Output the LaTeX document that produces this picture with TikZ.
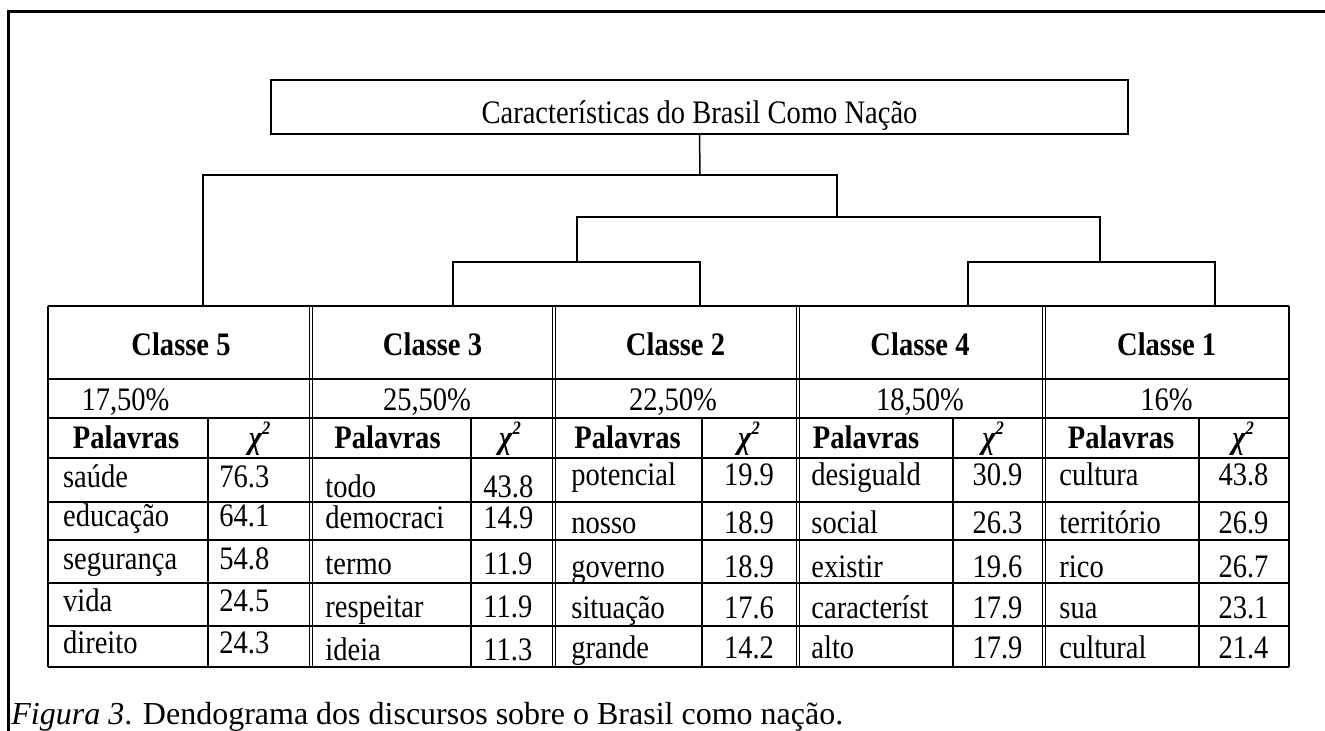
\documentclass[tikz,border=0pt]{standalone}
\usepackage{fontspec}
\setmainfont{Liberation Serif}[FakeStretch=0.87]
\newfontfamily\capfont{Liberation Serif}
\newcommand\tabfont{\fontsize{16.4}{19}\selectfont}
\newcommand\chisq{\itshape χ\raisebox{0.42em}{\fontsize{9.5}{10}\selectfont 2}}
\begin{document}
\begin{tikzpicture}[x=0.5pt,y=-0.5pt,
  every node/.style={inner sep=0pt, font=\tabfont},
  tline/.style={line width=0.9pt},
  dline/.style={line width=0.5pt},
  dendro/.style={line width=0.75pt},
  hd/.style={anchor=base, font=\tabfont\bfseries},
  wd/.style={anchor=base west},
  nm/.style={anchor=base}]
\useasboundingbox (0,0) rectangle (1325,731);
% outer frame
\draw[line width=1.5pt] (8.5,731) -- (8.5,11.5) -- (1325,11.5);
% title
\node[draw, line width=1pt, minimum width=428.5pt, minimum height=27pt] (title) at (699.5,107) {};
\node[anchor=base] (tt) at (699.5,124) {Características do Brasil Como Nação};
% dendrogram coordinates
\coordinate (root) at (700,175);
\coordinate (r1) at (837,217);
\coordinate (k1) at (577,262);
\coordinate (k2) at (1100,262);
\coordinate (l5) at (203,306);
\coordinate (l3) at (453,306);
\coordinate (l2) at (700,306);
\coordinate (l4) at (968,306);
\coordinate (l1) at (1215,306);
\draw[dendro] (title.south) -- (root);
\draw[dendro] (l5) -- (l5 |- root) -- (r1 |- root) -- (r1);
\draw[dendro] (k1) -- (k1 |- r1) -- (k2 |- r1) -- (k2);
\draw[dendro] (l3) -- (l3 |- k1) -- (l2 |- k1) -- (l2);
\draw[dendro] (l4) -- (l4 |- k2) -- (l1 |- k2) -- (l1);
% table grid
\foreach \y in {306,379,418,458,502,540,583,626,667}
  \draw[tline] (48,\y) -- (1289,\y);
\draw[tline] (48,306) -- (48,667);
\draw[tline] (1289,306) -- (1289,667);
\foreach \x in {309.5,312.5,552.7,555.7,796,799,1042,1045}
  \draw[dline] (\x,306) -- (\x,667);
\foreach \x in {208,471,702,953,1199}
  \draw[tline] (\x,418) -- (\x,667);
% headers
\node[hd] (h5) at (181,356) {Classe 5};
\node[hd] (h3) at (432.5,356) {Classe 3};
\node[hd] (h2) at (675.5,356) {Classe 2};
\node[hd] (h4) at (920,356) {Classe 4};
\node[hd] (h1) at (1166.7,356) {Classe 1};
\node[nm] (p5) at (125.5,410) {17,50\%};
\node[nm] (p3) at (427,410) {25,50\%};
\node[nm] (p2) at (673,410) {22,50\%};
\node[nm] (p4) at (920,410) {18,50\%};
\node[nm] (p1) at (1166.5,410) {16\%};
\foreach \n/\xa/\xb in {5/126/259.6, 3/387.5/510, 2/627.5/749, 4/866/993, 1/1121/1243}{
  \node[hd] (pw\n) at (\xa,448) {Palavras};
  \node[hd] (ch\n) at (\xb,448) {\chisq};
}
% data
\foreach \w/\v/\y [count=\i] in {saúde/76.3/487, educação/64.1/526, segurança/54.8/569, vida/24.5/611, direito/24.3/653}{
  \node[wd] (a5w\i) at (62.7,\y) {\w};
  \node[wd] (a5v\i) at (219,\y) {\v};
}
\foreach \w/\v/\y [count=\i] in {todo/43.8/497, democraci/14.9/528, termo/11.9/574, respeitar/11.9/617, ideia/11.3/660}{
  \node[wd] (a3w\i) at (325,\y) {\w};
  \node[wd] (a3v\i) at (483,\y) {\v};
}
\foreach \w/\v/\y [count=\i] in {potencial/19.9/485, nosso/18.9/533, governo/18.9/577, situação/17.6/618, grande/14.2/658}{
  \node[wd] (a2w\i) at (571,\y) {\w};
  \node[nm] (a2v\i) at (749,\y) {\v};
}
\foreach \w/\v/\y [count=\i] in {desiguald/30.9/485, social/26.3/533, existir/19.6/577, característ/17.9/618, alto/17.9/658}{
  \node[wd] (a4w\i) at (811,\y) {\w};
  \node[nm] (a4v\i) at (997.5,\y) {\v};
}
\foreach \w/\v/\y [count=\i] in {cultura/43.8/485, território/26.9/533, rico/26.7/577, sua/23.1/618, cultural/21.4/658}{
  \node[wd] (a1w\i) at (1059,\y) {\w};
  \node[nm] (a1v\i) at (1243.5,\y) {\v};
}
% caption
\node[anchor=base west, font=\capfont\fontsize{16}{19}\selectfont] (cap) at (11,724) {\textit{Figura 3}. Dendograma dos discursos sobre o Brasil como nação.};
\end{tikzpicture}
\end{document}
